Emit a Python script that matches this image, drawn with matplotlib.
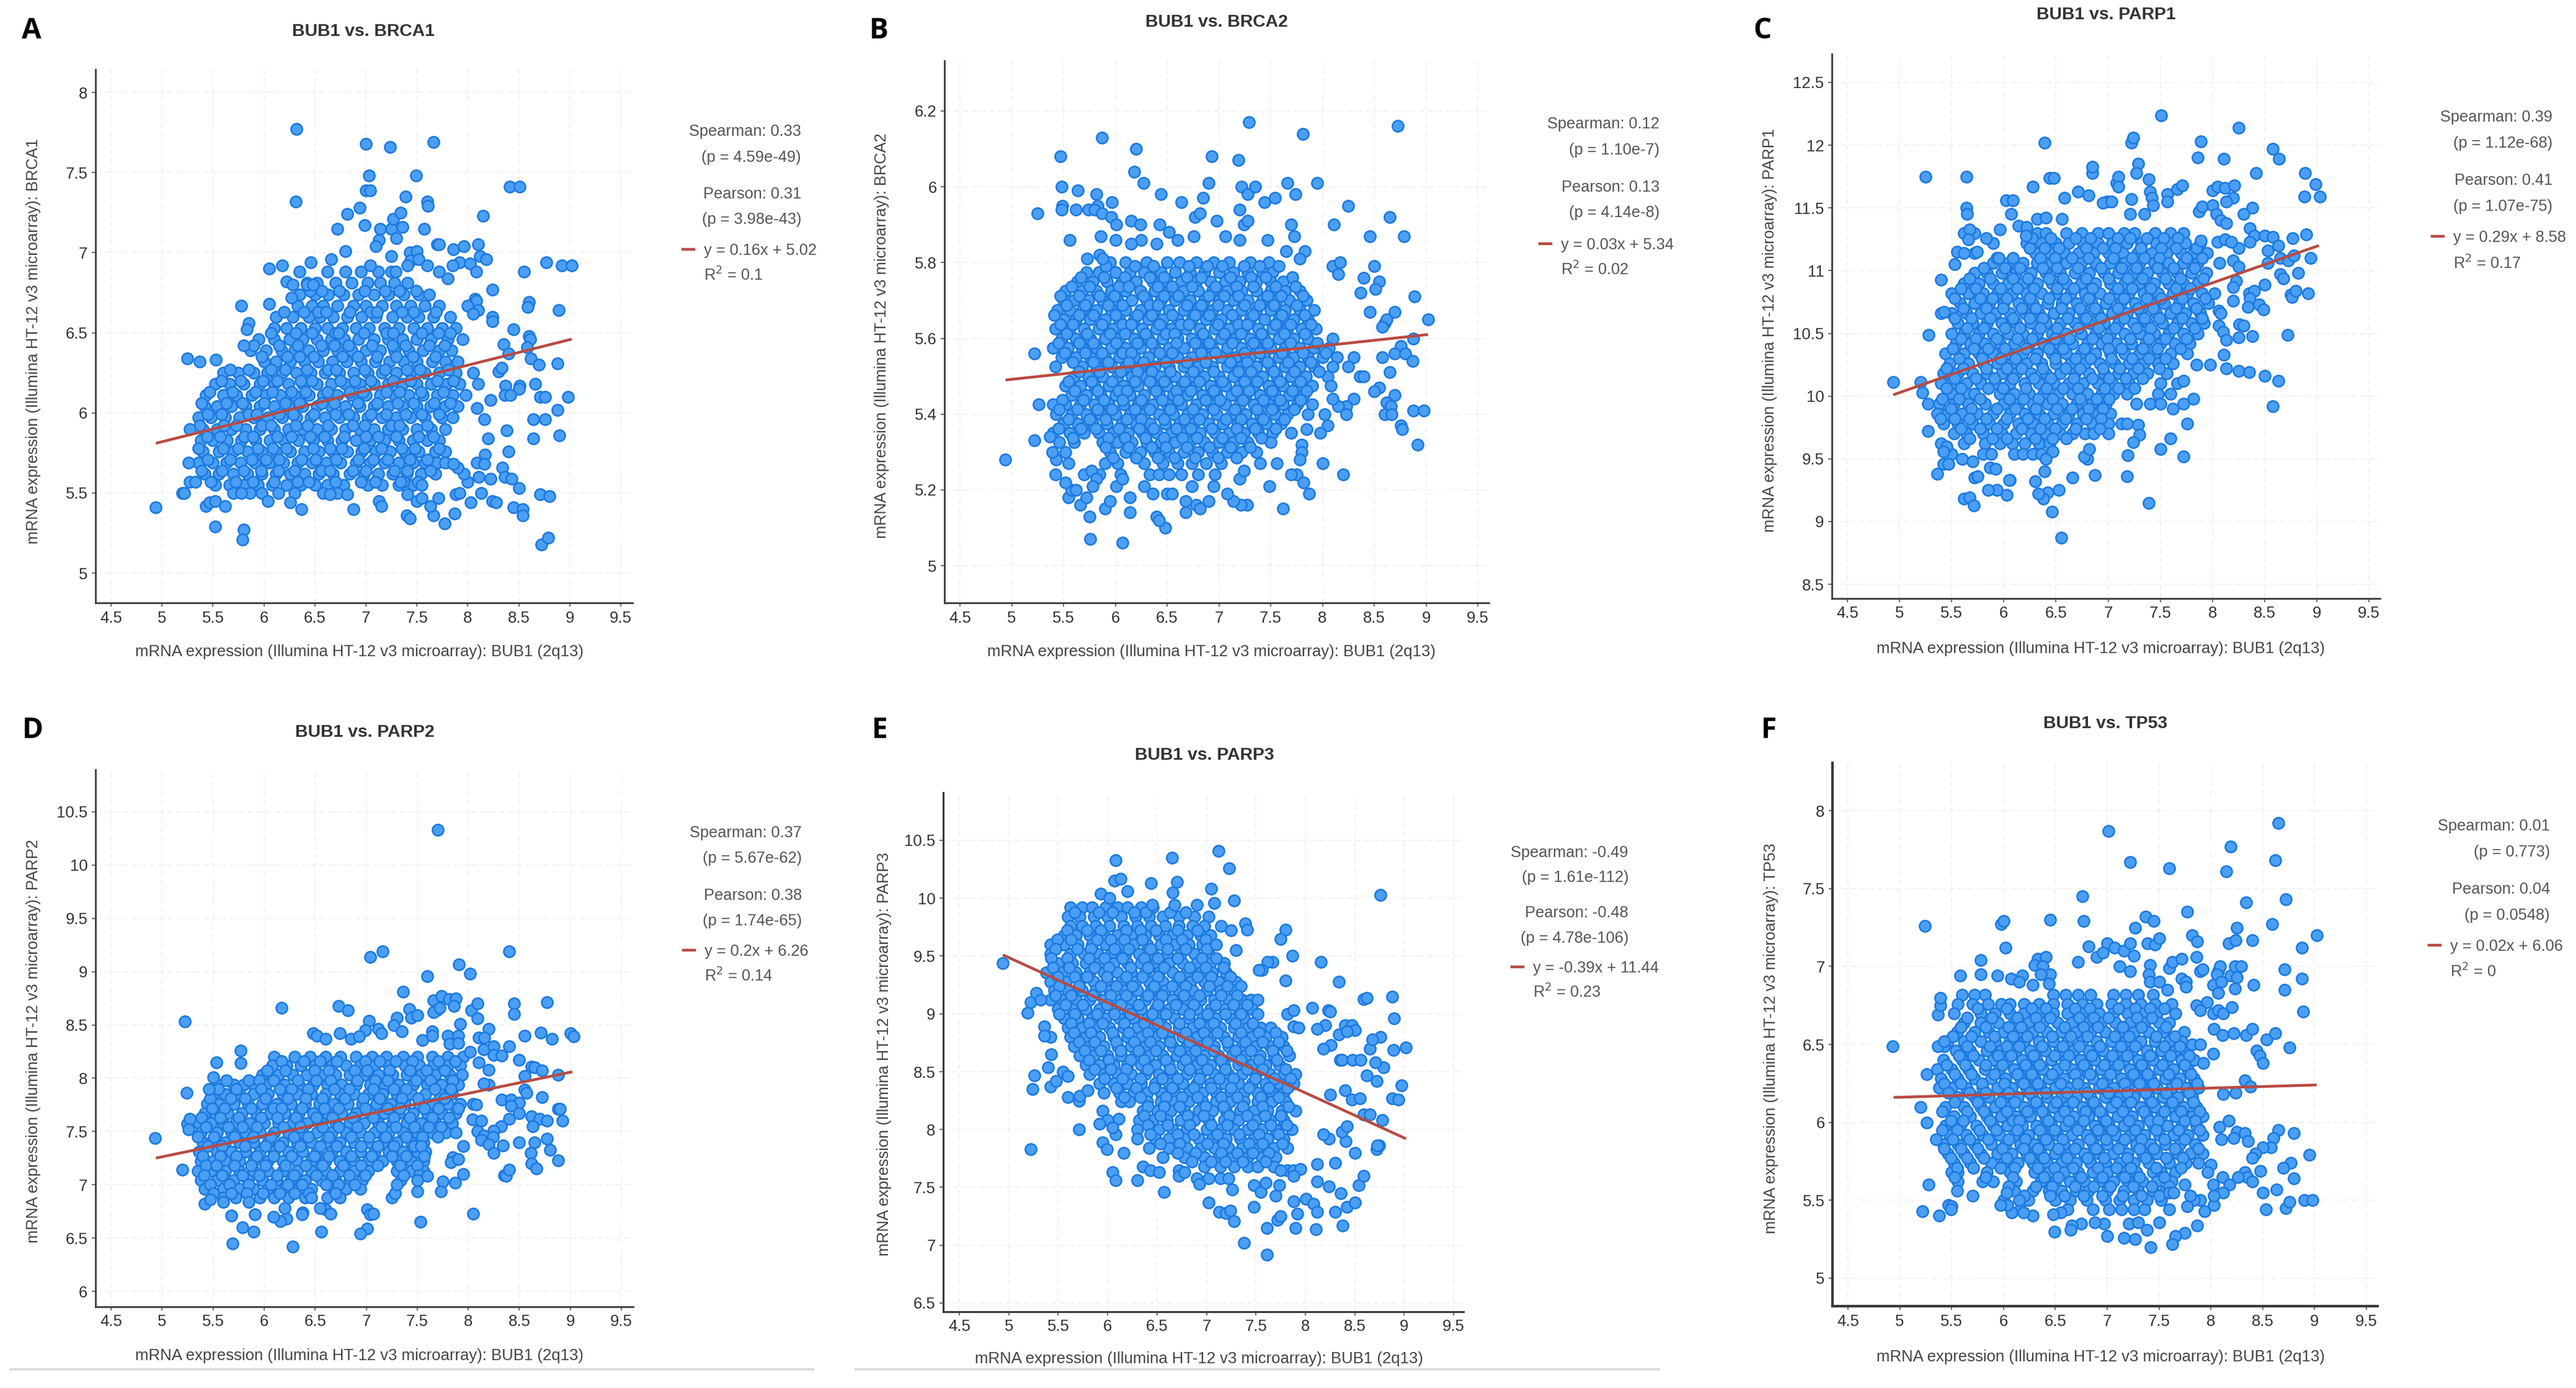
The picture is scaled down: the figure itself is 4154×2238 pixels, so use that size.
import matplotlib
matplotlib.use("Agg")
import matplotlib.pyplot as plt
from matplotlib.lines import Line2D

W, H = 4154, 2238
plt.rcParams['font.family'] = ['Liberation Sans', 'DejaVu Sans']

X_TICKS = [4.5, 5, 5.5, 6, 6.5, 7, 7.5, 8, 8.5, 9, 9.5]
FIT_X = [4.94, 9.02]

A_rows = [
(6.88,[6.62,6.8,6.95,7.12,7.25]),(6.81,[6.42,6.52,6.7,6.86,7.02,7.14,7.28,7.41]),
(6.74,[6.35,6.5,6.63,6.78,6.93,7.08,7.22,7.37,7.52,7.62]),(6.67,[6.33,6.47,6.58,6.72,6.88,7.0,7.16,7.3,7.44,7.58,7.72]),
(6.6,[6.12,6.28,6.44,6.55,6.68,6.82,6.96,7.1,7.26,7.4,7.52,7.66,7.83]),(6.53,[6.1,6.22,6.36,6.5,6.62,6.77,6.9,7.03,7.18,7.32,7.47,7.6,7.75,7.88]),
(6.46,[5.95,6.1,6.25,6.38,6.52,6.66,6.79,6.93,7.08,7.22,7.36,7.5,7.64,7.8,7.95]),(6.39,[5.87,6.02,6.17,6.3,6.44,6.58,6.72,6.86,7.0,7.14,7.28,7.42,7.56,7.72,7.84]),
(6.32,[6.0,6.12,6.26,6.4,6.53,6.67,6.81,6.95,7.09,7.23,7.37,7.5,7.65,7.78,7.9]),(6.25,[5.6,5.75,5.9,6.03,6.18,6.32,6.46,6.6,6.74,6.88,7.02,7.16,7.3,7.44,7.58,7.72,7.88,8.05]),
(6.18,[5.52,5.66,5.8,5.96,6.1,6.24,6.38,6.52,6.66,6.8,6.94,7.08,7.22,7.36,7.5,7.64,7.79,7.92,8.1]),(6.11,[5.43,5.6,5.73,5.88,6.02,6.16,6.3,6.44,6.58,6.72,6.86,7.0,7.14,7.28,7.42,7.56,7.7,7.85,7.98]),
(6.04,[5.42,5.54,5.68,5.82,5.96,6.1,6.24,6.38,6.52,6.66,6.8,6.94,7.08,7.22,7.36,7.5,7.63,7.78,7.9]),(5.97,[5.36,5.48,5.62,5.76,5.9,6.04,6.18,6.32,6.46,6.6,6.74,6.88,7.02,7.16,7.3,7.44,7.58,7.74,7.85]),
(5.9,[5.4,5.54,5.68,5.82,5.96,6.1,6.24,6.38,6.52,6.66,6.8,6.94,7.08,7.22,7.36,7.5,7.64,7.78]),(5.83,[5.38,5.5,5.64,5.78,5.92,6.06,6.2,6.34,6.48,6.62,6.76,6.9,7.04,7.18,7.32,7.46,7.6,7.72]),
(5.76,[5.4,5.56,5.7,5.84,5.98,6.12,6.26,6.4,6.54,6.68,6.82,6.96,7.1,7.24,7.38,7.52,7.68,7.78]),(5.69,[5.36,5.5,5.63,5.77,5.91,6.05,6.19,6.33,6.47,6.61,6.75,6.9,7.04,7.18,7.32,7.46,7.58,7.7,7.78]),
(5.62,[5.42,5.56,5.7,5.84,5.98,6.12,6.26,6.4,6.54,6.68,6.84,6.98,7.12,7.26,7.4,7.54,7.68]),(5.55,[5.52,5.66,5.8,5.94,6.08,6.22,6.36,6.5,6.62,6.78,7.02,7.16,7.32,7.46]),
(5.5,[5.7,5.86,5.98,6.14,6.3,6.58,6.72]),
]
A_fill = [
(6.76,[6.45,6.57,6.74,6.99,7.19,7.33,7.49]),(6.63,[6.2,6.39,6.53,6.61,6.84,7.05,7.11,7.35,7.47,7.69]),
(6.5,[6.07,6.31,6.47,6.7,6.73,6.98,7.2,7.27,7.55,7.71,7.83]),(6.42,[5.9,6.15,6.33,6.56,6.69,6.83,7.06,7.26,7.39,7.62,7.77]),
(6.35,[5.98,6.23,6.35,6.49,6.77,6.92,7.11,7.3,7.46,7.68]),(6.27,[5.67,5.85,6.07,6.21,6.42,6.63,6.71,6.99,7.19,7.4,7.53,7.81]),
(6.2,[5.58,5.77,5.99,6.13,6.36,6.47,6.75,6.89,7.05,7.27,7.44,7.7,7.86]),(6.13,[5.47,5.69,5.92,6.08,6.27,6.41,6.62,6.84,6.97,7.2,7.33,7.54,7.76]),
(6.06,[5.39,5.63,5.79,6.0,6.21,6.35,6.57,6.69,6.92,7.11,7.31,7.47,7.67,7.83]),(5.99,[5.45,5.58,5.85,5.93,6.15,6.29,6.49,6.7,6.83,7.05,7.2,7.39,7.55,7.72]),
(5.92,[5.37,5.61,5.73,5.98,6.07,6.31,6.43,6.63,6.87,6.99,7.25,7.33,7.6]),(5.85,[5.44,5.57,5.81,5.89,6.13,6.27,6.45,6.59,6.79,7.0,7.12,7.3,7.52,7.66]),
(5.78,[5.36,5.6,5.75,5.94,6.09,6.22,6.48,6.65,6.76,6.98,7.15,7.35,7.48,7.72]),(5.71,[5.45,5.67,5.88,6.02,6.15,6.37,6.51,6.71,6.93,7.07,7.21,7.43,7.6]),
(5.64,[5.39,5.59,5.8,5.97,6.14,6.3,6.56,6.65,6.87,7.0,7.28,7.41,7.63]),(5.57,[5.48,5.72,5.89,6.1,6.33,6.44,6.7,6.95,7.09,7.37,7.51]),
]
A_out = [(4.94,5.41),(5.25,6.34),(5.37,6.32),(5.53,6.33),(5.52,5.29),(5.80,5.27),(5.79,5.21),(5.43,5.42),(5.47,5.44),(5.52,5.45),(5.62,5.42),(5.20,5.50),(5.22,5.50),(5.27,5.57),(5.33,5.57),(5.26,5.69),(5.27,5.90),(5.78,6.67),(5.85,6.56),(5.83,6.52),(5.80,6.42),(6.05,6.68),(6.05,6.90),(6.18,6.92),(6.35,6.88),(6.46,6.94),(6.66,6.96),(6.22,6.82),(6.28,6.80),(6.27,6.72),(6.42,6.80),(6.48,6.80),(6.80,7.01),(6.32,7.77),(6.31,7.32),(7.00,7.68),(7.24,7.66),(7.66,7.69),(7.03,7.48),(7.49,7.48),(7.00,7.39),(7.04,7.39),(6.82,7.24),(6.72,7.15),(6.94,7.28),(6.99,7.17),(7.14,7.15),(7.13,7.08),(7.10,7.04),(7.25,7.15),(7.30,7.09),(7.27,7.21),(7.34,7.25),(7.36,7.16),(7.39,7.35),(7.60,7.32),(7.61,7.29),(7.57,7.15),(8.15,7.23),(8.41,7.41),(8.51,7.41),(7.25,6.98),(7.43,7.00),(7.50,7.01),(7.44,6.95),(7.41,6.92),(7.52,6.96),(7.60,6.92),(7.04,6.92),(7.29,6.88),(7.70,7.05),(7.72,7.05),(7.86,7.02),(7.96,7.04),(7.92,6.94),(7.85,6.92),(7.72,6.88),(7.80,6.84),(8.02,6.93),(8.08,6.88),(8.10,7.05),(8.12,6.98),(8.18,6.96),(8.55,6.88),(8.77,6.94),(8.92,6.92),(9.02,6.92),(8.89,6.64),(8.60,6.69),(8.59,6.66),(8.24,6.77),(8.07,6.71),(8.08,6.70),(8.00,6.67),(8.10,6.64),(8.05,6.62),(8.24,6.60),(8.24,6.57),(8.45,6.52),(8.60,6.48),(8.61,6.46),(8.35,6.43),(8.40,6.37),(8.58,6.41),(8.62,6.34),(8.70,6.30),(8.88,6.31),(8.30,6.26),(8.33,6.28),(8.66,6.18),(8.37,6.17),(8.51,6.17),(8.50,6.15),(8.36,6.11),(8.42,6.11),(8.22,6.08),(8.71,6.10),(8.76,6.10),(8.98,6.10),(8.88,6.02),(8.09,6.03),(8.16,5.96),(8.64,5.96),(8.76,5.96),(8.90,5.86),(8.20,5.84),(8.38,5.89),(8.64,5.84),(8.40,5.76),(8.17,5.74),(8.09,5.69),(8.16,5.68),(8.34,5.66),(8.36,5.60),(8.43,5.59),(8.11,5.60),(8.22,5.59),(8.00,5.57),(8.50,5.53),(7.96,5.62),(7.90,5.66),(7.86,5.68),(8.13,5.50),(7.88,5.49),(7.92,5.50),(8.03,5.44),(8.24,5.45),(8.28,5.44),(8.45,5.41),(8.54,5.40),(8.54,5.36),(8.71,5.49),(8.80,5.48),(8.72,5.18),(8.79,5.22),(7.71,5.47),(7.87,5.37),(7.77,5.31),(7.66,5.36),(7.63,5.42),(7.40,5.36),(7.43,5.34),(7.50,5.45),(7.55,5.47),(7.13,5.45),(7.15,5.42),(6.88,5.40),(6.82,5.49),(6.65,5.49),(6.37,5.40),(6.26,5.44),(6.04,5.45),(7.41,5.49),(7.34,5.57),(7.55,5.55),(5.78,5.50)]

B_rows = [
(5.8,[5.95,6.1,6.3,6.5,6.62,6.78,6.95,7.1,7.3,7.48]),(5.775,[5.72,5.84,6.0,6.14,6.28,6.44,6.58,6.72,6.86,7.0,7.14,7.28,7.42,7.52]),
(5.75,[5.63,5.78,5.92,6.06,6.2,6.36,6.5,6.64,6.78,6.92,7.06,7.2,7.36,7.5,7.62]),(5.725,[5.52,5.68,5.82,5.96,6.1,6.24,6.38,6.52,6.66,6.8,6.94,7.08,7.22,7.36,7.5,7.64,7.78]),
(5.7,[5.5,5.6,5.74,5.88,6.02,6.16,6.3,6.44,6.58,6.72,6.86,7.0,7.14,7.28,7.42,7.56,7.68,7.85]),(5.675,[5.44,5.56,5.68,5.82,5.96,6.1,6.24,6.38,6.52,6.66,6.8,6.94,7.08,7.22,7.36,7.5,7.64,7.78,7.92]),
(5.65,[5.5,5.62,5.76,5.9,6.04,6.18,6.32,6.46,6.6,6.74,6.88,7.02,7.16,7.3,7.44,7.58,7.72,7.86]),(5.625,[5.42,5.56,5.7,5.84,5.98,6.12,6.26,6.4,6.54,6.68,6.82,6.96,7.1,7.24,7.38,7.52,7.66,7.8,7.94]),
(5.6,[5.48,5.62,5.76,5.9,6.04,6.18,6.32,6.46,6.6,6.74,6.88,7.02,7.16,7.3,7.44,7.58,7.72,7.86,8.1]),(5.575,[5.4,5.54,5.68,5.82,5.96,6.1,6.24,6.38,6.52,6.66,6.8,6.94,7.08,7.22,7.36,7.5,7.64,7.78,7.92,8.06]),
(5.55,[5.48,5.62,5.76,5.9,6.04,6.18,6.32,6.46,6.6,6.74,6.88,7.02,7.16,7.3,7.44,7.58,7.72,7.86,8.0,8.14,8.3]),(5.525,[5.42,5.68,5.82,5.96,6.1,6.24,6.38,6.52,6.66,6.8,6.94,7.08,7.22,7.36,7.5,7.64,7.78,7.92,8.1,8.25]),
(5.5,[5.6,5.74,5.88,6.02,6.16,6.3,6.44,6.58,6.72,6.86,7.0,7.14,7.28,7.42,7.56,7.7,7.84,8.05,8.36]),(5.475,[5.52,5.66,5.8,5.94,6.08,6.22,6.36,6.5,6.64,6.78,6.92,7.06,7.2,7.34,7.48,7.62,7.76,7.9,8.08]),
(5.45,[5.58,5.72,5.86,6.0,6.14,6.28,6.42,6.56,6.7,6.84,6.98,7.12,7.26,7.4,7.54,7.68,7.82]),(5.425,[5.26,5.4,5.52,5.66,5.8,5.94,6.08,6.22,6.36,6.5,6.64,6.78,6.92,7.06,7.2,7.34,7.48,7.62,7.76,7.9]),
(5.4,[5.43,5.58,5.72,5.86,6.0,6.14,6.28,6.42,6.56,6.7,6.84,6.98,7.12,7.26,7.4,7.54,7.66,7.86]),(5.375,[5.5,5.64,5.78,5.92,6.06,6.2,6.34,6.48,6.62,6.76,6.9,7.04,7.18,7.32,7.46,7.6]),
(5.35,[5.4,5.56,5.7,5.84,5.98,6.12,6.26,6.4,6.54,6.68,6.82,6.96,7.1,7.24,7.38,7.52,7.7]),(5.325,[5.46,5.6,5.88,6.02,6.16,6.3,6.44,6.58,6.72,6.86,7.0,7.14,7.28,7.5]),
(5.3,[5.52,5.95,6.1,6.24,6.38,6.52,6.66,6.8,6.94,7.08,7.22,7.36]),(5.27,[5.55,5.9,6.02,6.28,6.46,6.6,6.74,6.88,7.02,7.4,7.56]),
(5.24,[5.7,5.85,6.05,6.33,6.42,6.52,6.64,6.8,6.96]),
]
B_fill = [
(5.79,[5.91,6.19,6.37,6.71,6.89,7.03,7.24,7.39,7.58]),(5.762,[5.67,5.89,6.09,6.33,6.47,6.69,6.83,7.11,7.31,7.45,7.71]),
(5.737,[5.58,5.75,6.03,6.13,6.41,6.55,6.74,6.97,7.17,7.33,7.55,7.74]),(5.712,[5.47,5.65,5.85,5.99,6.27,6.47,6.61,6.9,7.05,7.19,7.47,7.6,7.81]),
(5.687,[5.53,5.71,5.93,6.07,6.33,6.41,6.69,6.83,6.99,7.25,7.39,7.53,7.75]),(5.662,[5.41,5.65,5.79,6.0,6.21,6.35,6.55,6.77,6.91,7.13,7.33,7.61,7.83]),
(5.637,[5.47,5.59,5.87,6.07,6.15,6.43,6.63,6.71,6.99,7.19,7.27,7.55,7.69,7.89]),(5.612,[5.53,5.73,5.95,6.09,6.29,6.49,6.57,6.85,7.05,7.21,7.41,7.63,7.83]),
(5.587,[5.45,5.65,5.79,6.01,6.21,6.35,6.59,6.77,6.91,7.13,7.33,7.47,7.69,7.95]),(5.562,[5.51,5.71,5.87,6.07,6.15,6.43,6.55,6.83,6.97,7.25,7.39,7.61,7.81,8.03]),
(5.537,[5.59,5.79,5.93,6.13,6.27,6.49,6.69,6.87,7.11,7.27,7.47,7.67,7.89]),(5.512,[5.65,5.85,6.05,6.21,6.35,6.53,6.75,6.95,7.19,7.31,7.53,7.73,7.97]),
(5.487,[5.55,5.77,5.97,6.19,6.33,6.47,6.67,6.81,7.03,7.25,7.37,7.59,7.79]),(5.462,[5.61,5.83,6.03,6.11,6.39,6.59,6.73,6.95,7.17,7.29,7.51,7.71,7.85]),
(5.437,[5.49,5.69,5.89,6.07,6.25,6.45,6.61,6.87,7.01,7.23,7.43,7.59,7.79]),(5.412,[5.46,5.63,5.83,5.97,6.19,6.33,6.53,6.75,6.95,7.15,7.37,7.51,7.73]),
(5.387,[5.55,5.75,5.91,6.11,6.25,6.47,6.67,6.81,7.07,7.21,7.43,7.63]),(5.362,[5.45,5.67,5.81,6.03,6.23,6.37,6.59,6.73,6.93,7.17,7.35,7.55]),
(5.337,[5.59,5.93,6.09,6.29,6.47,6.65,6.79,7.03,7.21,7.41]),(5.312,[5.91,6.13,6.35,6.49,6.69,6.91,7.11,7.3]),
(5.285,[5.98,6.2,6.41,6.57,6.77,6.99,7.17]),
]
B_out = [(4.94,5.28),(5.22,5.56),(5.22,5.33),(5.25,5.93),(5.47,6.08),(5.48,6.00),(5.87,6.13),(6.20,6.10),(6.18,6.04),(6.27,6.01),(5.64,5.99),(5.82,5.98),(5.83,5.95),(5.97,5.96),(6.44,5.98),(6.64,5.96),(6.85,5.97),(6.90,6.01),(6.93,6.08),(7.19,6.07),(7.29,6.17),(7.81,6.14),(8.73,6.16),(7.22,6.00),(7.28,5.98),(7.35,6.00),(7.66,6.01),(7.95,6.01),(7.74,5.98),(7.44,5.96),(7.54,5.97),(8.25,5.95),(8.65,5.92),(7.20,5.94),(7.70,5.90),(8.11,5.90),(7.73,5.87),(8.79,5.87),(8.46,5.87),(5.49,5.95),(5.48,5.94),(5.62,5.94),(5.74,5.94),(5.80,5.94),(5.87,5.93),(5.96,5.92),(6.01,5.90),(6.15,5.91),(6.24,5.90),(6.43,5.90),(6.77,5.92),(6.82,5.93),(6.98,5.91),(7.24,5.90),(7.28,5.91),(5.56,5.86),(5.86,5.87),(6.00,5.86),(6.25,5.86),(6.15,5.85),(5.73,5.81),(5.85,5.82),(5.88,5.81),(6.40,5.85),(6.52,5.88),(6.60,5.86),(6.76,5.87),(7.06,5.87),(7.20,5.86),(7.47,5.86),(7.65,5.83),(7.83,5.83),(7.78,5.81),(8.10,5.79),(8.17,5.80),(8.50,5.79),(8.15,5.77),(8.40,5.76),(8.55,5.75),(8.37,5.72),(8.51,5.73),(8.89,5.71),(8.70,5.67),(8.46,5.67),(9.02,5.65),(8.60,5.64),(8.62,5.65),(8.58,5.63),(8.88,5.60),(8.76,5.58),(8.58,5.55),(8.70,5.56),(8.80,5.56),(8.87,5.54),(8.65,5.51),(8.40,5.50),(8.55,5.47),(8.50,5.46),(8.70,5.45),(8.62,5.43),(8.66,5.42),(8.60,5.40),(8.67,5.40),(8.88,5.41),(8.98,5.41),(8.76,5.37),(8.77,5.36),(8.92,5.32),(8.30,5.44),(8.23,5.42),(8.15,5.42),(8.10,5.44),(8.23,5.40),(8.02,5.40),(8.05,5.37),(7.98,5.35),(7.85,5.36),(7.80,5.32),(7.80,5.30),(7.78,5.28),(7.75,5.24),(7.70,5.24),(8.00,5.27),(8.20,5.24),(7.82,5.22),(7.87,5.19),(7.49,5.21),(7.62,5.15),(7.20,5.23),(7.24,5.25),(7.27,5.16),(7.21,5.16),(7.14,5.17),(7.08,5.19),(6.95,5.21),(6.90,5.17),(6.78,5.16),(6.82,5.15),(6.74,5.21),(6.68,5.17),(6.68,5.14),(6.48,5.10),(6.40,5.13),(6.42,5.12),(6.14,5.14),(6.14,5.18),(6.07,5.06),(5.76,5.07),(5.75,5.13),(5.90,5.15),(5.95,5.17),(5.66,5.16),(5.72,5.18),(5.55,5.18),(5.58,5.20),(5.52,5.22),(5.42,5.24),(5.43,5.28),(5.39,5.30),(5.37,5.34),(5.62,5.20),(5.77,5.25),(5.82,5.23),(5.78,5.21),(6.01,5.21),(6.07,5.23),(6.28,5.21),(6.36,5.19),(6.50,5.19),(6.55,5.19)]

C_rows = [
(11.3,[5.72,6.32,6.4,6.6,6.75,6.9,7.0,7.15,7.25,7.45,7.6,7.72]),(11.22,[5.9,6.22,6.36,6.5,6.62,6.76,6.9,7.04,7.18,7.32,7.46,7.6,7.74,7.88]),
(11.14,[5.72,6.3,6.44,6.58,6.72,6.86,7.0,7.14,7.28,7.42,7.56,7.7,7.82,7.95]),(11.06,[5.9,6.04,6.18,6.32,6.46,6.6,6.74,6.88,7.02,7.16,7.3,7.44,7.58,7.72,7.86]),
(10.98,[5.72,5.84,5.98,6.12,6.26,6.4,6.54,6.68,6.82,6.96,7.1,7.24,7.38,7.52,7.66,7.8,7.94]),(10.9,[5.62,5.76,5.9,6.04,6.18,6.32,6.46,6.6,6.74,6.88,7.02,7.16,7.3,7.44,7.58,7.72,7.86]),
(10.82,[5.5,5.66,5.8,5.94,6.08,6.22,6.36,6.5,6.64,6.78,6.92,7.06,7.2,7.34,7.48,7.62,7.76,7.9,8.02]),(10.74,[5.58,5.72,5.86,6.0,6.14,6.28,6.42,6.56,6.7,6.84,6.98,7.12,7.26,7.4,7.54,7.68,7.82,7.96]),
(10.66,[5.5,5.64,5.78,5.92,6.06,6.2,6.34,6.48,6.62,6.76,6.9,7.04,7.18,7.32,7.46,7.6,7.74,7.88]),(10.58,[5.56,5.7,5.84,5.98,6.12,6.26,6.4,6.54,6.68,6.82,6.96,7.1,7.24,7.38,7.52,7.66,7.8,7.92]),
(10.5,[5.62,5.76,5.9,6.04,6.18,6.32,6.46,6.6,6.74,6.88,7.02,7.16,7.3,7.44,7.58,7.72,7.86]),(10.42,[5.54,5.68,5.82,5.96,6.1,6.24,6.38,6.52,6.66,6.8,6.94,7.08,7.22,7.36,7.5,7.64,7.78]),
(10.34,[5.44,5.62,5.76,5.9,6.04,6.18,6.32,6.46,6.6,6.74,6.88,7.02,7.16,7.3,7.44,7.6,7.76]),(10.26,[5.48,5.66,5.8,5.94,6.08,6.22,6.36,6.5,6.64,6.78,6.92,7.06,7.2,7.34,7.48,7.62]),
(10.18,[5.42,5.56,5.7,5.84,5.98,6.12,6.26,6.4,6.54,6.68,6.82,6.96,7.1,7.24,7.38,7.56]),(10.1,[5.4,5.5,5.64,5.78,5.92,6.06,6.2,6.34,6.48,6.62,6.76,6.9,7.04,7.2,7.5,7.66]),
(10.02,[5.5,5.64,5.72,5.96,6.1,6.24,6.38,6.52,6.66,6.8,6.94,7.05,7.18,7.48,7.6]),(9.94,[5.38,5.52,5.66,5.82,6.0,6.14,6.28,6.42,6.56,6.7,6.84,6.98,7.27,7.4,7.5]),
(9.86,[5.36,5.46,5.6,5.74,5.9,6.06,6.2,6.34,6.48,6.62,6.76,6.9,7.02]),(9.78,[5.42,5.56,5.7,5.86,6.0,6.14,6.28,6.42,6.56,6.7,6.85,7.0,7.13,7.18]),
(9.7,[5.52,5.64,5.8,5.98,6.12,6.26,6.4,6.54,6.66,6.78,6.86,7.0]),(9.62,[5.62,5.82,5.96,6.08,6.2,6.34,6.44]),
(9.54,[5.5,5.8,5.88,6.1,6.18,6.28,6.36]),
]
C_fill = [
(11.26,[6.27,6.45,6.69,6.83,7.09,7.21,7.37,7.53,7.67]),(11.18,[6.25,6.39,6.53,6.79,6.95,7.07,7.31,7.51,7.65,7.85]),
(11.1,[5.93,6.09,6.35,6.49,6.65,6.81,7.05,7.23,7.35,7.49,7.75,7.9]),(11.02,[5.81,6.01,6.15,6.37,6.51,6.71,6.93,7.13,7.27,7.47,7.63,7.83]),
(10.94,[5.67,5.87,6.09,6.23,6.43,6.57,6.79,7.0,7.19,7.33,7.55,7.69,7.91]),(10.86,[5.59,5.73,5.97,6.13,6.29,6.51,6.67,6.85,7.09,7.23,7.41,7.65,7.79]),
(10.78,[5.53,5.77,5.89,6.03,6.25,6.43,6.59,6.81,7.01,7.15,7.37,7.51,7.71,7.93]),(10.7,[5.61,5.83,5.99,6.17,6.31,6.55,6.73,6.87,7.09,7.29,7.43,7.65,7.85]),
(10.62,[5.53,5.69,5.87,6.09,6.25,6.37,6.61,6.79,6.93,7.15,7.35,7.49,7.71,7.9]),(10.54,[5.65,5.81,6.01,6.15,6.35,6.51,6.71,6.91,7.07,7.27,7.41,7.63,7.83]),
(10.46,[5.59,5.73,5.93,6.13,6.27,6.49,6.63,6.85,6.99,7.21,7.39,7.55,7.75]),(10.38,[5.51,5.71,5.85,6.01,6.21,6.43,6.57,6.77,7.0,7.13,7.33,7.47,7.69]),
(10.3,[5.57,5.79,5.97,6.11,6.3,6.49,6.69,6.83,7.03,7.23,7.39,7.55]),(10.22,[5.45,5.61,5.83,6.03,6.17,6.37,6.59,6.73,6.95,7.11,7.29,7.49]),
(10.14,[5.53,5.73,5.91,6.09,6.29,6.45,6.67,6.85,7.01,7.17,7.33]),(10.06,[5.45,5.59,5.85,5.99,6.21,6.41,6.57,6.71,6.97,7.1,7.25]),
(9.98,[5.41,5.57,5.77,6.05,6.19,6.33,6.47,6.73,6.89,7.01]),(9.9,[5.49,5.69,5.93,6.11,6.31,6.51,6.65,6.81,6.95]),
(9.82,[5.39,5.53,5.67,5.83,6.03,6.23,6.39,6.59,6.79,6.93]),(9.74,[5.59,5.77,5.93,6.17,6.35,6.49,6.69,6.92]),
(9.66,[5.67,5.89,6.03,6.3,6.47,6.6]),
]
C_out = [(4.94,10.11),(5.20,10.11),(5.22,10.03),(5.27,9.94),(5.27,9.72),(5.28,10.49),(5.25,11.75),(5.64,11.75),(5.64,11.50),(5.65,11.45),(5.40,10.93),(5.40,10.66),(5.43,10.67),(5.50,10.50),(5.55,11.15),(5.53,11.05),(5.62,11.14),(5.62,11.30),(5.67,11.33),(5.66,11.25),(5.74,11.15),(5.83,11.26),(5.95,11.10),(5.96,11.33),(6.02,11.56),(6.09,11.56),(6.07,11.45),(6.14,11.36),(6.22,11.35),(6.21,11.28),(6.32,11.41),(6.40,11.42),(6.39,12.02),(6.44,11.74),(6.48,11.74),(6.28,11.67),(6.58,11.58),(6.56,11.41),(6.71,11.63),(6.81,11.60),(6.85,11.78),(6.85,11.83),(6.99,11.55),(6.95,11.54),(7.03,11.55),(7.08,11.70),(7.10,11.75),(7.10,11.67),(7.22,12.02),(7.24,12.06),(7.29,11.85),(7.27,11.78),(7.39,11.73),(7.40,11.63),(7.42,11.58),(7.43,11.52),(7.22,11.57),(7.21,11.45),(7.35,11.45),(7.51,12.24),(7.57,11.61),(7.57,11.55),(7.66,11.65),(7.71,11.68),(7.89,12.03),(7.86,11.90),(8.11,11.89),(8.25,12.14),(8.58,11.97),(8.64,11.89),(8.42,11.78),(8.89,11.78),(8.99,11.69),(8.88,11.59),(9.03,11.59),(8.00,11.64),(8.05,11.67),(8.12,11.66),(8.21,11.68),(8.20,11.58),(8.13,11.55),(8.38,11.50),(8.30,11.45),(7.87,11.47),(7.90,11.51),(8.00,11.52),(8.04,11.45),(8.08,11.40),(8.13,11.38),(8.36,11.34),(8.40,11.28),(8.36,11.23),(8.50,11.28),(8.58,11.27),(8.63,11.20),(8.77,11.26),(8.90,11.29),(8.25,11.18),(8.53,11.16),(8.05,11.23),(8.12,11.25),(8.18,11.23),(7.89,11.24),(8.65,11.10),(8.53,11.06),(8.73,11.08),(8.78,11.12),(8.94,11.10),(8.20,11.08),(8.25,11.03),(8.07,11.06),(8.82,10.98),(8.65,10.97),(8.68,10.94),(8.23,10.92),(8.50,10.89),(8.20,10.87),(8.75,10.81),(8.76,10.79),(8.92,10.82),(8.80,10.84),(8.35,10.82),(8.40,10.84),(8.36,10.78),(8.20,10.76),(8.34,10.71),(8.45,10.73),(8.49,10.69),(8.06,10.68),(8.08,10.66),(8.06,10.56),(8.10,10.51),(8.13,10.45),(8.26,10.57),(8.30,10.56),(8.25,10.47),(8.38,10.48),(8.72,10.49),(8.11,10.33),(8.13,10.22),(7.85,10.25),(7.98,10.25),(8.25,10.20),(8.35,10.19),(8.50,10.16),(8.63,10.12),(8.58,9.92),(7.82,9.98),(7.72,9.94),(7.76,9.78),(7.62,9.90),(7.72,10.12),(7.60,9.66),(7.50,9.58),(7.72,9.52),(7.29,9.77),(7.30,9.69),(7.24,9.63),(7.19,9.53),(7.18,9.36),(6.87,9.37),(6.66,9.35),(6.80,9.50),(6.77,9.52),(6.82,9.58),(6.53,9.25),(6.39,9.40),(6.42,9.23),(6.38,9.18),(6.33,9.22),(6.30,9.32),(6.46,9.08),(6.55,8.87),(7.39,9.15),(6.03,9.21),(6.06,9.33),(6.05,9.33),(5.93,9.25),(5.85,9.25),(5.62,9.18),(5.67,9.19),(5.71,9.13),(5.72,9.35),(5.75,9.36),(5.87,9.43),(5.92,9.42),(5.36,9.38),(5.42,9.46),(5.47,9.46),(5.40,9.62),(5.45,9.6),(5.42,9.56),(5.6,9.5),(5.7,9.48),(6.47,9.56),(6.40,9.50)]

D_rows = [
(8.2,[6.1,6.3,6.45,6.6,6.75,6.9,7.06,7.2,7.36,7.5,7.65,7.8,7.95]),(8.12,[6.08,6.22,6.36,6.5,6.66,6.8,6.94,7.08,7.22,7.38,7.52,7.66,7.8,7.92]),
(8.03,[5.98,6.14,6.28,6.42,6.56,6.7,6.84,6.98,7.12,7.26,7.4,7.54,7.68,7.82,7.94]),(7.94,[5.54,5.7,5.8,5.9,6.02,6.2,6.34,6.48,6.62,6.76,6.9,7.04,7.18,7.32,7.46,7.6,7.74,7.9]),
(7.85,[5.5,5.62,5.76,5.9,6.04,6.18,6.32,6.46,6.6,6.74,6.88,7.02,7.16,7.3,7.44,7.58,7.72,7.84]),(7.76,[5.44,5.56,5.7,5.84,5.98,6.12,6.26,6.4,6.54,6.68,6.82,6.96,7.1,7.24,7.38,7.52,7.66,7.8,7.92]),
(7.67,[5.42,5.52,5.64,5.78,5.92,6.06,6.2,6.34,6.48,6.62,6.76,6.9,7.04,7.18,7.32,7.46,7.6,7.74,7.88]),(7.58,[5.36,5.48,5.6,5.72,5.86,6.0,6.14,6.28,6.42,6.56,6.7,6.84,6.98,7.12,7.26,7.4,7.54,7.68,7.84]),
(7.49,[5.38,5.54,5.68,5.82,5.96,6.1,6.24,6.38,6.52,6.66,6.8,6.94,7.08,7.22,7.36,7.5,7.64,7.78,7.88]),(7.4,[5.4,5.48,5.62,5.76,5.9,6.04,6.18,6.32,6.46,6.6,6.74,6.88,7.02,7.16,7.3,7.44,7.56]),
(7.31,[5.36,5.54,5.68,5.82,5.96,6.1,6.24,6.38,6.52,6.66,6.8,6.94,7.08,7.22,7.36,7.5,7.58]),(7.22,[5.38,5.5,5.62,5.76,5.9,6.04,6.18,6.32,6.46,6.6,6.74,6.88,7.02,7.16,7.3,7.44,7.56]),
(7.13,[5.35,5.48,5.62,5.76,5.9,6.04,6.18,6.32,6.46,6.6,6.74,6.88,7.02,7.3,7.44,7.56]),(7.04,[5.38,5.54,5.7,5.84,5.98,6.12,6.26,6.4,6.56,6.7,6.84,6.96,7.34]),
(6.96,[5.42,5.6,5.76,5.9,6.04,6.2,6.34,6.46,6.68,6.8,6.94]),(6.88,[5.6,5.72,5.96,6.1,6.24,6.4,6.62,6.74]),
]
D_fill = [
(8.16,[6.17,6.39,6.55,6.71,6.99,7.13,7.29,7.45,7.71,7.87]),(8.07,[6.03,6.21,6.49,6.63,6.89,7.01,7.23,7.43,7.59,7.77]),
(7.98,[5.63,5.85,5.95,6.09,6.33,6.51,6.65,6.91,7.09,7.21,7.49,7.63,7.85]),(7.9,[5.55,5.73,5.97,6.15,6.27,6.43,6.69,6.83,7.07,7.27,7.39,7.67,7.83]),
(7.81,[5.47,5.67,5.81,6.01,6.23,6.41,6.57,6.79,6.97,7.13,7.35,7.51,7.77]),(7.72,[5.49,5.61,5.87,6.09,6.17,6.37,6.59,6.73,6.99,7.21,7.33,7.57,7.71,7.9]),
(7.63,[5.39,5.57,5.75,5.97,6.13,6.31,6.51,6.67,6.87,7.07,7.27,7.43,7.65,7.81]),(7.54,[5.43,5.65,5.79,5.93,6.19,6.35,6.57,6.73,6.91,7.15,7.29,7.47,7.61,7.73]),
(7.45,[5.35,5.51,5.71,5.89,6.07,6.29,6.43,6.63,6.85,7.03,7.19,7.39,7.55,7.7]),(7.36,[5.45,5.59,5.81,6.01,6.15,6.35,6.55,6.71,6.95,7.11,7.27,7.47,7.54]),
(7.27,[5.4,5.57,5.73,5.93,6.09,6.27,6.49,6.63,6.85,7.05,7.25,7.39,7.57]),(7.18,[5.43,5.53,5.71,5.87,6.01,6.21,6.41,6.57,6.77,6.95,7.11,7.33,7.5]),
(7.09,[5.41,5.59,5.79,5.95,6.13,6.29,6.51,6.67,6.83,6.99,7.37,7.52]),(7.0,[5.47,5.66,5.85,6.07,6.23,6.37,6.61,6.73,6.89]),
(6.92,[5.5,5.68,5.83,5.99,6.15,6.3,6.44,6.7]),
]
D_out = [(4.93,7.44),(5.20,7.14),(5.22,8.53),(5.24,7.86),(5.25,7.57),(5.27,7.62),(5.26,7.52),(5.53,8.15),(5.77,8.26),(5.77,8.14),(5.50,8.01),(5.46,7.90),(6.17,8.66),(6.73,8.68),(6.82,8.64),(7.04,9.14),(7.16,9.19),(7.70,10.33),(8.40,9.19),(7.60,8.96),(7.91,9.07),(8.02,8.98),(7.36,8.81),(7.66,8.73),(7.74,8.77),(7.69,8.64),(7.66,8.62),(7.72,8.66),(7.81,8.74),(7.88,8.75),(7.86,8.68),(7.92,8.51),(8.03,8.64),(8.09,8.70),(8.09,8.56),(8.45,8.70),(8.45,8.60),(8.77,8.71),(7.42,8.65),(7.44,8.57),(7.50,8.59),(7.30,8.57),(7.27,8.50),(7.03,8.54),(7.12,8.46),(6.99,8.45),(6.48,8.42),(6.52,8.40),(6.74,8.42),(6.85,8.37),(6.93,8.39),(6.60,8.37),(7.15,8.42),(7.35,8.44),(7.65,8.44),(7.65,8.40),(7.55,8.36),(7.80,8.40),(7.90,8.40),(7.82,8.32),(7.90,8.33),(8.10,8.38),(8.20,8.46),(8.16,8.38),(8.15,8.27),(8.25,8.30),(8.40,8.30),(8.25,8.22),(8.33,8.21),(8.02,8.25),(8.55,8.40),(8.71,8.43),(8.82,8.37),(9.00,8.42),(9.03,8.39),(8.50,8.17),(8.62,8.11),(8.65,8.10),(8.72,8.07),(8.88,8.03),(8.20,8.08),(8.10,8.15),(8.55,8.02),(8.20,7.94),(8.15,7.95),(8.55,7.89),(8.57,7.86),(8.33,7.80),(8.42,7.80),(8.50,7.77),(8.72,7.82),(8.05,7.76),(8.08,7.75),(8.42,7.74),(8.88,7.71),(8.90,7.71),(8.50,7.67),(8.62,7.64),(8.70,7.62),(8.77,7.60),(8.92,7.60),(8.40,7.62),(8.04,7.61),(8.13,7.60),(8.32,7.55),(8.25,7.51),(8.63,7.55),(8.09,7.50),(8.15,7.46),(8.13,7.42),(8.24,7.45),(8.20,7.38),(8.34,7.37),(8.50,7.40),(8.65,7.40),(8.77,7.43),(8.80,7.33),(8.25,7.30),(8.61,7.30),(8.62,7.20),(8.67,7.15),(8.88,7.23),(8.35,7.09),(8.37,7.08),(8.40,7.14),(7.95,7.36),(7.85,7.26),(7.83,7.21),(7.90,7.24),(7.95,7.10),(7.75,7.03),(7.87,7.02),(7.73,6.94),(7.50,6.94),(7.50,7.04),(7.60,7.08),(8.05,6.73),(7.53,6.65),(7.25,6.88),(7.28,6.92),(7.30,7.00),(7.01,6.77),(7.04,6.72),(7.07,6.73),(7.01,6.59),(6.94,6.54),(6.56,6.56),(6.60,6.77),(6.65,6.73),(6.38,6.74),(6.37,6.72),(6.28,6.42),(6.22,6.68),(6.16,6.66),(6.09,6.70),(5.90,6.56),(5.79,6.60),(5.69,6.45),(5.91,6.72),(5.68,6.71),(5.42,6.82),(5.47,6.86),(5.60,6.84),(5.85,6.84),(6.20,6.78),(6.46,6.88),(6.55,6.78)]

E_rows = [
(9.92,[5.62,5.74,5.84,5.98,6.1,6.2,6.34,6.46]),(9.84,[5.6,5.72,5.86,6.0,6.14,6.28,6.42,6.56,6.72,6.88,7.02]),
(9.76,[5.62,5.74,5.88,6.02,6.16,6.3,6.44,6.58,6.72,6.86,6.98,7.15]),(9.68,[5.56,5.68,5.82,5.96,6.1,6.24,6.38,6.52,6.66,6.8,6.94,7.04]),
(9.6,[5.42,5.56,5.7,5.84,5.98,6.12,6.26,6.4,6.54,6.68,6.82,6.96]),(9.52,[5.42,5.62,5.76,5.9,6.04,6.18,6.32,6.46,6.6,6.74,6.88,7.02]),
(9.44,[5.5,5.64,5.78,5.92,6.06,6.2,6.34,6.48,6.62,6.76,6.9,7.04,7.18]),(9.36,[5.38,5.54,5.68,5.82,5.96,6.1,6.24,6.38,6.52,6.66,6.8,6.94,7.06,7.2]),
(9.28,[5.42,5.58,5.72,5.86,6.0,6.14,6.28,6.42,6.56,6.7,6.84,6.98,7.12,7.3]),(9.2,[5.46,5.6,5.74,5.88,6.02,6.16,6.3,6.44,6.58,6.72,6.86,7.0,7.14,7.28]),
(9.12,[5.42,5.54,5.68,5.82,5.96,6.1,6.24,6.38,6.52,6.66,6.8,6.94,7.08,7.22,7.36,7.45,7.52]),(9.04,[5.5,5.64,5.78,5.92,6.06,6.2,6.34,6.48,6.62,6.76,6.9,7.04,7.18,7.32,7.46]),
(8.96,[5.56,5.7,5.84,5.98,6.12,6.26,6.4,6.54,6.68,6.82,6.96,7.1,7.24,7.38]),(8.88,[5.6,5.74,5.88,6.02,6.16,6.3,6.44,6.58,6.72,6.86,7.0,7.14,7.28,7.42,7.55,7.65]),
(8.8,[5.42,5.62,5.78,5.92,6.06,6.2,6.34,6.48,6.62,6.76,6.9,7.04,7.18,7.32,7.46,7.6,7.76]),(8.72,[5.66,5.82,5.96,6.1,6.24,6.38,6.52,6.66,6.8,6.94,7.08,7.22,7.36,7.5,7.64,7.78]),
(8.64,[5.72,5.86,6.0,6.14,6.28,6.42,6.56,6.7,6.84,6.98,7.12,7.26,7.4,7.54,7.68,7.84]),(8.56,[5.78,5.92,6.06,6.2,6.34,6.48,6.62,6.76,6.9,7.04,7.18,7.32,7.46,7.6,7.74]),
(8.48,[5.82,5.96,6.1,6.24,6.38,6.52,6.66,6.8,6.94,7.08,7.22,7.36,7.5,7.64,7.78,7.9]),(8.4,[5.92,6.06,6.2,6.34,6.48,6.62,6.76,6.9,7.04,7.18,7.32,7.46,7.6,7.74,7.88]),
(8.32,[5.96,6.12,6.26,6.4,6.54,6.68,6.82,6.96,7.1,7.24,7.38,7.52,7.66,7.78]),(8.24,[6.14,6.22,6.4,6.54,6.68,6.82,6.96,7.1,7.24,7.38,7.52,7.66,7.8]),
(8.16,[5.95,6.36,6.5,6.64,6.78,6.92,7.06,7.2,7.34,7.48,7.62,7.76,7.9]),(8.08,[6.0,6.32,6.46,6.6,6.74,6.88,7.02,7.18,7.32,7.5,7.64,7.78]),
(8.0,[6.3,6.52,6.66,6.8,7.0,7.14,7.28,7.42,7.56,7.7,7.86]),(7.92,[6.3,6.48,6.62,6.78,6.92,7.06,7.2,7.34,7.48,7.62,7.78]),
(7.84,[6.42,6.62,6.8,6.94,7.08,7.22,7.36,7.52,7.68,7.82]),(7.76,[6.56,6.78,6.98,7.12,7.26,7.42,7.56,7.7]),
(7.68,[6.98,7.14,7.28,7.42,7.52,7.68]),(7.58,[6.9,7.02,7.14,7.22]),
]
E_fill = [
(9.88,[5.67,5.91,6.05,6.27,6.39,6.63,6.79]),(9.72,[5.59,5.79,5.93,6.19,6.33,6.49,6.71,6.91]),
(9.64,[5.49,5.63,5.89,6.03,6.17,6.35,6.59,6.75,6.99]),(9.56,[5.47,5.69,5.83,6.07,6.21,6.43,6.61,6.79,7.0]),
(9.48,[5.43,5.59,5.81,5.97,6.15,6.37,6.51,6.71,6.95,7.1]),(9.4,[5.45,5.61,5.87,6.01,6.23,6.41,6.57,6.83,6.99,7.17]),
(9.32,[5.5,5.67,5.79,5.99,6.19,6.35,6.51,6.73,6.91,7.05,7.24]),(9.24,[5.51,5.71,5.93,6.09,6.25,6.47,6.65,6.79,7.03,7.21,7.35]),
(9.16,[5.47,5.63,5.85,6.03,6.19,6.41,6.55,6.77,6.93,7.15,7.31]),(9.08,[5.57,5.75,5.99,6.13,6.31,6.51,6.69,6.87,7.09,7.27,7.41]),
(9.0,[5.51,5.67,5.89,6.07,6.23,6.45,6.59,6.83,7.01,7.19,7.35,7.52]),(8.92,[5.63,5.81,5.95,6.17,6.37,6.51,6.73,6.93,7.07,7.29,7.47]),
(8.84,[5.66,5.83,6.05,6.21,6.41,6.55,6.79,6.97,7.11,7.35,7.53,7.7]),(8.76,[5.71,5.87,6.09,6.27,6.43,6.63,6.83,7.01,7.21,7.39,7.57,7.73]),
(8.68,[5.77,5.93,6.13,6.31,6.49,6.73,6.89,7.07,7.29,7.45,7.67,7.81]),(8.6,[5.81,6.01,6.23,6.37,6.59,6.79,6.95,7.15,7.35,7.53,7.71]),
(8.52,[5.87,6.03,6.19,6.41,6.63,6.83,7.01,7.19,7.41,7.57,7.8]),(8.44,[5.97,6.15,6.33,6.55,6.71,6.93,7.13,7.27,7.49,7.69,7.85]),
(8.36,[6.09,6.29,6.47,6.65,6.87,7.05,7.25,7.43,7.63,7.82]),(8.28,[6.17,6.33,6.59,6.75,6.91,7.15,7.31,7.55,7.73]),
(8.2,[6.41,6.57,6.73,6.99,7.17,7.37,7.57,7.83]),(8.12,[6.37,6.53,6.81,6.97,7.23,7.41,7.59,7.75]),
(8.04,[6.41,6.61,6.83,7.05,7.21,7.47,7.65,7.81]),(7.96,[6.43,6.71,6.87,7.11,7.33,7.53,7.73]),
(7.88,[6.53,6.73,7.01,7.17,7.43,7.57,7.77]),(7.8,[6.71,6.89,7.15,7.31,7.47,7.63]),
(7.72,[6.85,7.05,7.19,7.37,7.6]),
]
E_out = [(4.94,9.44),(5.19,9.01),(5.22,9.1),(5.28,9.18),(5.22,7.83),(5.71,8.0),(5.26,8.47),(5.24,8.35),(5.42,8.37),(5.48,8.42),(5.40,8.54),(5.43,8.65),(5.55,8.5),(5.60,8.46),(5.60,8.28),(5.71,8.25),(5.72,8.29),(5.80,8.34),(5.36,8.89),(5.36,8.81),(5.32,9.12),(5.92,8.05),(5.95,7.89),(5.99,7.83),(6.08,7.96),(6.11,8.09),(6.05,8.02),(6.16,7.8),(6.05,7.63),(6.08,7.56),(6.3,7.56),(6.36,7.68),(6.43,7.65),(6.52,7.63),(6.57,7.46),(6.72,7.65),(6.72,7.6),(6.78,7.63),(6.93,7.53),(7.02,7.37),(7.13,7.29),(7.2,7.28),(7.24,7.3),(7.28,7.21),(7.26,7.48),(7.38,7.02),(7.48,7.33),(7.48,7.52),(7.55,7.46),(7.6,7.54),(7.61,7.15),(7.61,6.92),(7.7,7.43),(7.72,7.22),(7.75,7.25),(7.74,7.52),(7.88,7.38),(7.9,7.15),(7.92,7.27),(8.01,7.4),(8.08,7.36),(8.12,7.29),(8.11,7.14),(8.3,7.29),(8.38,7.17),(8.42,7.33),(8.5,7.37),(8.36,7.45),(8.24,7.51),(8.12,7.55),(8.54,7.52),(8.59,7.6),(8.3,7.71),(8.12,7.7),(7.82,7.65),(7.88,7.65),(7.95,7.66),(7.88,7.6),(7.75,7.65),(8.5,7.8),(8.72,7.83),(8.75,7.86),(8.73,7.86),(8.41,7.9),(8.24,7.92),(8.18,7.96),(8.37,7.98),(8.42,8.03),(8.78,8.08),(8.59,8.13),(8.65,8.13),(8.47,8.26),(8.55,8.27),(8.4,8.34),(8.25,8.3),(8.88,8.27),(8.94,8.26),(8.97,8.38),(8.72,8.42),(8.62,8.47),(8.79,8.54),(8.71,8.58),(8.35,8.6),(8.37,8.6),(8.48,8.6),(8.56,8.6),(8.65,8.7),(8.89,8.69),(9.02,8.71),(8.76,8.8),(8.68,8.78),(8.34,8.82),(8.26,8.73),(8.18,8.7),(8.2,8.9),(8.12,8.87),(8.4,8.9),(8.47,8.9),(8.5,8.86),(8.42,8.85),(8.9,8.96),(8.88,9.15),(8.59,9.13),(8.62,9.14),(8.23,9.03),(8.25,9.02),(8.07,9.05),(7.82,9.0),(7.88,9.03),(7.88,8.89),(7.93,8.88),(8.34,9.28),(7.8,9.29),(8.16,9.45),(7.87,9.5),(7.67,9.45),(7.62,9.45),(7.56,9.38),(7.53,9.38),(8.76,10.03),(7.8,9.73),(7.75,9.65),(7.39,9.78),(7.41,9.73),(7.28,9.98),(7.08,9.96),(7.05,10.08),(7.23,10.26),(7.12,10.41),(6.65,10.35),(6.08,10.33),(6.07,10.15),(6.13,10.17),(6.44,10.13),(6.7,10.14),(6.66,10.05),(6.2,10.06),(5.93,10.04),(6.02,10.0),(6.68,9.94),(6.9,9.94),(6.45,9.94),(7.3,9.55),(7.1,9.6),(7.25,9.72)]

F_rows = [
(6.82,[5.6,5.72,5.82,6.48,6.6,6.72,6.84,7.06,7.18,7.3,7.44]),(6.76,[5.56,5.7,5.85,5.98,6.06,6.2,6.34,6.48,6.62,6.76,6.9,7.04,7.18,7.32,7.46,7.62]),
(6.7,[5.52,5.78,5.92,6.06,6.2,6.34,6.48,6.62,6.76,6.92,7.06,7.2,7.34,7.48,7.66]),(6.64,[5.62,5.78,5.95,6.1,6.24,6.38,6.52,6.66,6.8,6.94,7.08,7.22,7.36,7.5,7.6]),
(6.58,[5.55,5.72,5.86,6.0,6.14,6.28,6.42,6.56,6.7,6.84,6.98,7.12,7.26,7.4,7.54,7.74]),(6.52,[5.46,5.62,5.78,5.92,6.06,6.2,6.34,6.48,6.62,6.76,6.9,7.04,7.18,7.32,7.46,7.6,7.72]),
(6.46,[5.54,5.68,5.84,5.98,6.12,6.26,6.4,6.54,6.68,6.82,6.96,7.1,7.24,7.38,7.52,7.66,7.76]),(6.4,[5.42,5.6,5.76,5.9,6.04,6.18,6.32,6.46,6.6,6.74,6.88,7.02,7.16,7.3,7.44,7.58,7.72,7.84]),
(6.34,[5.36,5.5,5.66,5.82,5.96,6.1,6.24,6.38,6.52,6.66,6.8,6.94,7.08,7.22,7.36,7.5,7.64,7.78]),(6.28,[5.4,5.56,5.72,5.88,6.02,6.16,6.3,6.44,6.58,6.72,6.86,7.0,7.14,7.28,7.42,7.56,7.7,7.84]),
(6.22,[5.38,5.5,5.64,5.8,5.94,6.08,6.22,6.36,6.5,6.64,6.78,6.92,7.06,7.2,7.34,7.48,7.62,7.76,7.88]),(6.16,[5.56,5.72,5.86,6.0,6.14,6.28,6.42,6.56,6.7,6.84,6.98,7.12,7.26,7.4,7.54,7.68,7.82]),
(6.1,[5.44,5.62,5.78,5.92,6.06,6.2,6.34,6.48,6.62,6.76,6.9,7.04,7.18,7.32,7.46,7.6,7.74,7.86]),(6.04,[5.52,5.68,5.84,5.98,6.12,6.26,6.4,6.54,6.68,6.82,6.96,7.1,7.24,7.38,7.52,7.66,7.82,7.92]),
(5.98,[5.44,5.58,5.74,5.9,6.04,6.18,6.32,6.46,6.6,6.74,6.88,7.02,7.16,7.3,7.44,7.58,7.72,7.86]),(5.92,[5.48,5.64,5.8,5.96,6.1,6.24,6.38,6.52,6.66,6.8,6.94,7.08,7.22,7.36,7.5,7.64,7.78,7.92]),
(5.86,[5.42,5.56,5.72,5.88,6.02,6.16,6.3,6.44,6.58,6.72,6.86,7.0,7.14,7.28,7.42,7.56,7.7,7.85]),(5.8,[5.46,5.62,5.78,5.94,6.08,6.22,6.36,6.5,6.64,6.78,6.92,7.06,7.2,7.34,7.48,7.68,7.8,7.92]),
(5.74,[5.52,5.68,5.88,6.0,6.14,6.28,6.42,6.56,6.7,6.84,6.98,7.12,7.26,7.4,7.6,7.76,7.88]),(5.68,[5.5,5.56,5.84,6.06,6.3,6.44,6.58,6.72,6.86,7.0,7.14,7.28,7.44,7.52,7.66]),
(5.62,[5.56,5.8,5.9,6.12,6.36,6.5,6.64,6.78,6.92,7.06,7.2,7.34,7.48,7.62]),(5.56,[5.55,6.1,6.28,6.44,6.56,6.7,6.82,7.0,7.16,7.3,7.44,7.56]),
(5.5,[6.0,6.24,6.5,6.64,6.8,6.98,7.12,7.26,7.38,7.52]),(5.44,[6.16,6.62,6.86,7.02,7.14,7.26,7.36,7.6]),
]
F_fill = [
(6.73,[5.75,6.03,6.27,6.41,6.69,6.83,7.11,7.27,7.41,7.55]),(6.67,[5.65,5.89,6.13,6.31,6.45,6.73,6.87,7.01,7.29,7.43]),
(6.61,[5.59,5.83,6.05,6.17,6.35,6.59,6.77,6.91,7.15,7.33,7.57]),(6.55,[5.51,5.69,5.91,6.09,6.23,6.47,6.65,6.81,7.07,7.21,7.47,7.65]),
(6.49,[5.43,5.65,5.87,6.03,6.15,6.37,6.57,6.73,6.93,7.13,7.27,7.55,7.7]),(6.43,[5.57,5.71,5.95,6.07,6.29,6.49,6.63,6.85,7.05,7.19,7.41,7.61,7.79]),
(6.37,[5.45,5.63,5.83,5.99,6.21,6.35,6.59,6.77,6.97,7.11,7.33,7.53,7.75]),(6.31,[5.53,5.69,5.91,6.13,6.27,6.47,6.69,6.83,7.03,7.25,7.39,7.59,7.81]),
(6.25,[5.43,5.59,5.79,6.01,6.19,6.33,6.55,6.71,6.95,7.17,7.31,7.45,7.67,7.87]),(6.19,[5.47,5.67,5.83,6.05,6.25,6.41,6.61,6.81,7.01,7.19,7.37,7.57,7.79]),
(6.13,[5.53,5.75,5.97,6.11,6.31,6.51,6.67,6.87,7.09,7.23,7.43,7.63,7.83]),(6.07,[5.41,5.65,5.81,6.03,6.23,6.37,6.59,6.79,6.93,7.15,7.35,7.55,7.71,7.89]),
(6.01,[5.49,5.61,5.87,6.09,6.15,6.43,6.63,6.77,6.99,7.21,7.41,7.49,7.75,7.85]),(5.95,[5.41,5.55,5.77,5.93,6.13,6.35,6.49,6.71,6.91,7.05,7.27,7.47,7.69,7.89]),
(5.89,[5.51,5.67,5.85,6.05,6.21,6.41,6.57,6.83,6.99,7.17,7.33,7.55,7.75]),(5.83,[5.43,5.59,5.75,5.99,6.19,6.33,6.53,6.69,6.89,7.11,7.31,7.45,7.65,7.88]),
(5.77,[5.49,5.65,5.81,6.03,6.25,6.39,6.61,6.81,6.97,7.19,7.37,7.57,7.73]),(5.71,[5.55,5.71,5.97,6.11,6.33,6.49,6.67,6.91,7.09,7.23,7.47,7.71]),
(5.65,[5.53,5.83,6.09,6.39,6.53,6.75,6.95,7.17,7.31,7.55]),(5.59,[6.05,6.31,6.47,6.69,6.87,7.03,7.25,7.43,7.6]),
(5.53,[6.2,6.45,6.59,6.77,6.95,7.15,7.33,7.5]),
]
F_out = [(4.93,6.49),(5.24,7.26),(5.20,6.10),(5.26,6.31),(5.26,6.0),(5.35,5.89),(5.37,6.49),(5.37,6.69),(5.39,6.75),(5.39,6.8),(5.43,6.52),(5.28,5.6),(5.22,5.43),(5.38,5.4),(5.47,5.47),(5.50,5.46),(5.49,5.44),(5.7,5.53),(5.78,6.95),(5.94,6.94),(5.58,6.94),(5.98,7.27),(6.0,7.29),(6.02,7.12),(5.78,7.04),(6.45,7.3),(6.76,7.45),(6.77,7.29),(7.01,7.87),(7.22,7.67),(7.6,7.63),(7.37,7.32),(7.45,7.29),(7.27,7.25),(7.77,7.35),(7.82,7.2),(7.87,7.16),(8.19,7.77),(8.15,7.61),(8.62,7.68),(8.65,7.92),(8.72,7.43),(8.34,7.41),(8.59,7.27),(8.25,7.25),(8.17,7.15),(8.24,7.17),(8.4,7.17),(9.02,7.2),(8.88,7.12),(6.72,7.03),(6.82,7.13),(6.9,7.06),(7.0,7.15),(7.07,7.12),(6.96,7.09),(7.16,7.1),(7.22,7.15),(7.26,7.07),(6.33,7.05),(6.41,7.06),(6.3,7.01),(6.38,7.0),(6.45,6.95),(6.36,6.95),(6.18,6.94),(6.07,6.92),(6.15,6.9),(6.28,6.88),(6.44,6.89),(7.12,7.0),(7.22,6.97),(7.39,7.15),(7.46,7.14),(7.5,7.18),(7.41,7.01),(7.4,6.95),(7.6,6.99),(7.63,7.03),(7.72,7.05),(7.41,6.9),(7.5,6.9),(7.58,6.85),(7.72,6.92),(7.76,6.9),(7.76,6.87),(7.86,7.06),(7.9,6.97),(7.92,6.98),(8.07,6.97),(8.09,7.0),(8.06,6.95),(8.02,6.88),(8.1,6.9),(8.07,6.83),(8.19,6.94),(8.23,7.0),(8.29,7.0),(8.25,6.93),(8.23,6.86),(8.41,6.88),(8.71,6.98),(8.71,6.85),(8.88,6.92),(8.89,6.71),(7.96,6.77),(8.02,6.7),(8.07,6.72),(8.12,6.7),(8.2,6.74),(7.86,6.75),(7.9,6.72),(8.03,6.6),(8.11,6.56),(8.22,6.57),(8.34,6.56),(8.4,6.6),(8.54,6.53),(8.62,6.57),(8.76,6.48),(8.44,6.46),(8.47,6.43),(8.5,6.38),(8.02,6.44),(7.82,6.5),(7.9,6.5),(7.93,6.38),(8.33,6.27),(8.38,6.23),(8.12,6.18),(8.24,6.19),(8.08,5.97),(8.17,6.01),(8.25,5.94),(8.22,5.9),(8.33,5.93),(8.36,5.88),(8.1,5.89),(8.65,5.95),(8.6,5.9),(8.8,5.93),(8.58,5.84),(8.5,5.84),(8.43,5.8),(8.4,5.77),(8.95,5.79),(8.77,5.74),(8.7,5.71),(8.48,5.69),(8.8,5.64),(8.33,5.68),(8.35,5.65),(8.4,5.62),(8.26,5.65),(8.11,5.65),(8.18,5.6),(8.0,5.73),(8.02,5.6),(7.97,5.68),(8.12,5.55),(8.5,5.55),(8.63,5.57),(8.53,5.44),(8.72,5.45),(8.76,5.49),(8.9,5.5),(8.98,5.5),(7.9,5.5),(8.03,5.47),(8.03,5.53),(7.94,5.43),(7.84,5.5),(7.77,5.46),(7.8,5.53),(7.6,5.55),(7.64,5.55),(7.75,5.6),(7.87,5.34),(7.75,5.29),(7.66,5.27),(7.63,5.22),(7.42,5.2),(7.27,5.25),(7.16,5.26),(7.0,5.27),(7.38,5.31),(7.21,5.35),(7.3,5.36),(7.5,5.36),(6.97,5.35),(6.88,5.36),(6.75,5.35),(6.66,5.34),(6.65,5.31),(6.49,5.3),(6.55,5.42),(6.48,5.41),(6.28,5.4),(6.19,5.42),(6.08,5.42),(6.04,5.47),(5.97,5.47),(6.03,5.55),(6.15,5.5)]

LETTERS = ['A', 'B', 'C', 'D', 'E', 'F']
GENES = ['BRCA1', 'BRCA2', 'PARP1', 'PARP2', 'PARP3', 'TP53']
ROWS = [A_rows, B_rows, C_rows, D_rows, E_rows, F_rows]
FILL_ROWS = [A_fill, B_fill, C_fill, D_fill, E_fill, F_fill]
OUT = [A_out, B_out, C_out, D_out, E_out, F_out]
Y_TICKS = [[5, 5.5, 6, 6.5, 7, 7.5, 8], [5, 5.2, 5.4, 5.6, 5.8, 6, 6.2], [8.5, 9, 9.5, 10, 10.5, 11, 11.5, 12, 12.5],
           [6, 6.5, 7, 7.5, 8, 8.5, 9, 9.5, 10, 10.5], [6.5, 7, 7.5, 8, 8.5, 9, 9.5, 10, 10.5], [5, 5.5, 6, 6.5, 7, 7.5, 8]]
FIT_Y = [[5.81, 6.46], [5.49, 5.61], [10.01, 11.2], [7.25, 8.06], [9.51, 7.92], [6.16, 6.24]]
STATS = [
 ['Spearman: 0.33', '(p = 4.59e-49)', 'Pearson: 0.31', '(p = 3.98e-43)', 'y = 0.16x + 5.02', 'R$^{2}$ = 0.1'],
 ['Spearman: 0.12', '(p = 1.10e-7)', 'Pearson: 0.13', '(p = 4.14e-8)', 'y = 0.03x + 5.34', 'R$^{2}$ = 0.02'],
 ['Spearman: 0.39', '(p = 1.12e-68)', 'Pearson: 0.41', '(p = 1.07e-75)', 'y = 0.29x + 8.58', 'R$^{2}$ = 0.17'],
 ['Spearman: 0.37', '(p = 5.67e-62)', 'Pearson: 0.38', '(p = 1.74e-65)', 'y = 0.2x + 6.26', 'R$^{2}$ = 0.14'],
 ['Spearman: -0.49', '(p = 1.61e-112)', 'Pearson: -0.48', '(p = 4.78e-106)', 'y = -0.39x + 11.44', 'R$^{2}$ = 0.23'],
 ['Spearman: 0.01', '(p = 0.773)', 'Pearson: 0.04', '(p = 0.0548)', 'y = 0.02x + 6.06', 'R$^{2}$ = 0'],
]

# layout, in reference pixels
FRAME = [  # left, right, top, bottom
 (154, 1020, 112, 972), (1523, 2401, 98, 972), (2954, 3838, 87, 965),
 (154, 1021, 1241, 2107), (1521, 2360, 1278, 2115), (2955, 3834, 1230, 2106)]
X_CAL = [  # pixel of x=4.5, pixel of x=9.5
 (179, 1001), (1548, 2383), (2979, 3820), (179, 1002), (1547, 2344), (2980, 3816)]
Y_CAL = [  # low tick, its pixel, high tick, its pixel
 (5, 924, 8, 149), (5, 912, 6.2, 179), (8.5, 942, 12.5, 133),
 (6, 2082, 10.5, 1309), (6.5, 2101, 10.5, 1355), (5, 2061, 8, 1307)]
TITLE_XY = [(586, 51), (1962, 36), (3396, 24), (588, 1181), (1942, 1218), (3395, 1167)]
LETTER_XY = [(35, 50), (1402, 50), (2827, 50), (36, 1177), (1406, 1177), (2840, 1177)]
XLABEL_XY = [(579, 1051), (1954, 1051), (3388, 1046), (580, 2186), (1934, 2191), (3388, 2188)]
YLABEL_XY = [(54, 550), (1422, 541), (2854, 533), (54, 1679), (1426, 1700), (2856, 1674)]
STAT_RIGHT = [1292, 2676, 4116, 1293, 2626, 4112]
STAT_LEFT = [1135, 2517, 3956, 1136, 2472, 3951]
STAT_Y = [(212, 254, 313, 354, 404, 444), (200, 242, 302, 343, 395, 435), (189, 231, 291, 333, 383, 425),
          (1343, 1384, 1444, 1485, 1534, 1574), (1375, 1415, 1472, 1513, 1561, 1600), (1332, 1374, 1434, 1476, 1526, 1567)]
SPINE_W = [2.0, 2.0, 2.0, 2.0, 2.2, 3.0]

FILL, EDGE, RED = '#4a9ff5', '#1c79df', '#b84a42'
fig = plt.figure(figsize=(W / 100, H / 100), dpi=100, facecolor='white')


def fx(px):
    return px / W


def fy(py):
    return 1 - py / H


for i, gene in enumerate(GENES):
    L, R, T, B = FRAME[i]
    ax = fig.add_axes([fx(L), fy(B), (R - L) / W, (B - T) / H])
    px0, px1 = X_CAL[i]
    xs_per_px = 5 / (px1 - px0)
    ax.set_xlim(4.5 + (L - px0) * xs_per_px, 4.5 + (R - px0) * xs_per_px)
    v0, p0, v1, p1 = Y_CAL[i]
    ys_per_px = (v1 - v0) / (p0 - p1)
    ax.set_ylim(v0 + (p0 - B) * ys_per_px, v0 + (p0 - T) * ys_per_px)
    xs, ys = [], []
    for yv, row in ROWS[i] + FILL_ROWS[i]:
        xs += row
        ys += [yv] * len(row)
    for xv, yv in OUT[i]:
        xs.append(xv)
        ys.append(yv)
    ax.scatter(xs, ys, s=170, c=FILL, edgecolors=EDGE, linewidths=1.9, zorder=3, clip_on=False)
    ax.plot(FIT_X, FIT_Y[i], color=RED, lw=3.2, zorder=4, solid_capstyle='butt')
    ax.set_xticks(X_TICKS)
    ax.set_xticklabels([f'{t:g}' for t in X_TICKS])
    ax.set_yticks(Y_TICKS[i])
    ax.set_yticklabels([f'{t:g}' for t in Y_TICKS[i]])
    ax.tick_params(labelsize=18.5, length=4, width=1.2, color='#555555', labelcolor='#333333', pad=5)
    ax.grid(True, color='#f1f1f1', lw=1.3, ls=(0, (5, 3)), zorder=0)
    ax.set_axisbelow(True)
    for s in ('top', 'right'):
        ax.spines[s].set_visible(False)
    for s in ('left', 'bottom'):
        ax.spines[s].set_color('#3a3a3a')
        ax.spines[s].set_linewidth(SPINE_W[i])

    tx, ty = TITLE_XY[i]
    fig.text(fx(tx), fy(ty), f'BUB1 vs. {gene}', ha='center', va='center', fontsize=20.4, fontweight='bold', color='#333333')
    lx, ly = LETTER_XY[i]
    fig.text(fx(lx), fy(ly), LETTERS[i], ha='left', va='center', fontsize=33, fontweight='bold', color='black', family=['Open Sans', 'DejaVu Sans'])
    xx, xy = XLABEL_XY[i]
    fig.text(fx(xx), fy(xy), 'mRNA expression (Illumina HT-12 v3 microarray): BUB1 (2q13)', ha='center', va='center', fontsize=18.5, color='#444444')
    yx, yy = YLABEL_XY[i]
    fig.text(fx(yx), fy(yy), f'mRNA expression (Illumina HT-12 v3 microarray): {gene}', ha='center', va='center', rotation=90, fontsize=18.4, color='#444444')
    lines, sy = STATS[i], STAT_Y[i]
    for k in range(4):
        fig.text(fx(STAT_RIGHT[i]), fy(sy[k]), lines[k], ha='right', va='center', fontsize=18.3, color='#555555')
    for k in (4, 5):
        fig.text(fx(STAT_LEFT[i]), fy(sy[k]), lines[k], ha='left', va='center', fontsize=18.3, color='#555555')
    sl = STAT_LEFT[i]
    fig.add_artist(Line2D([fx(sl - 34), fx(sl - 16)], [fy(sy[4] - 2)] * 2, color=RED, lw=3.2, transform=fig.transFigure))

for x0, x1 in ((17, 1311), (1380, 2675)):
    fig.add_artist(Line2D([fx(x0), fx(x1)], [fy(2208)] * 2, color='#dddddd', lw=3, transform=fig.transFigure))

fig.savefig('out.png', dpi=100, facecolor='white')
